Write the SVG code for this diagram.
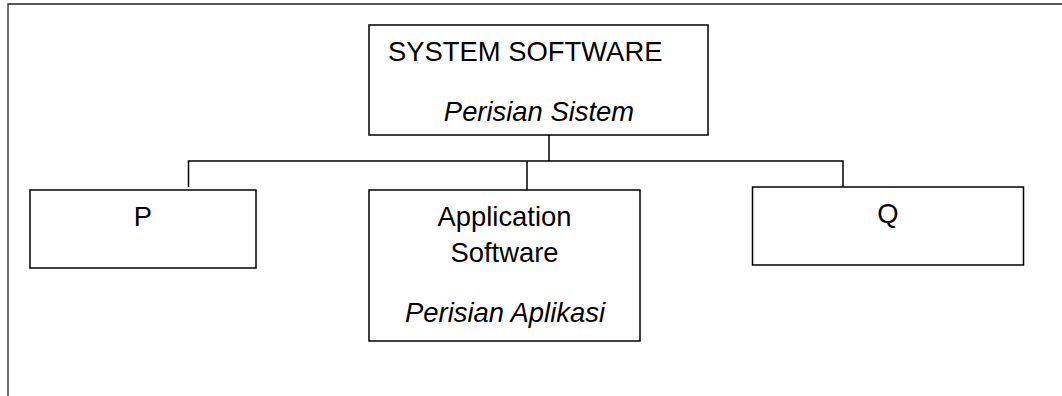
<svg xmlns="http://www.w3.org/2000/svg" width="1062" height="396" viewBox="0 0 1062 396">
<style>
.box{fill:#fff;stroke:#000;stroke-width:1.5}
.ln{fill:none;stroke:#000;stroke-width:1.5}
.t{font-family:"Liberation Sans",Arial,sans-serif;font-size:27.4px;fill:#000}
.i{font-style:italic}
.c{text-anchor:middle}
</style>
<rect width="1062" height="396" fill="#fff"/>
<g id="frame"><path d="M8 396V4H1062" fill="none" stroke="#222" stroke-width="1.3"/></g>
<g id="connectors">
<path class="ln" d="M549 135V161M188.5 187V161H843V187M527 161V190"/>
</g>
<g id="system">
<rect class="box" x="369" y="25" width="339" height="110"/>
<text class="t" x="388" y="61">SYSTEM SOFTWARE</text>
<text class="t i c" x="539" y="121">Perisian Sistem</text>
</g>
<g id="p">
<rect class="box" x="30" y="190" width="226" height="78"/>
<text class="t c" x="143" y="226">P</text>
</g>
<g id="application">
<rect class="box" x="369" y="190" width="271" height="151"/>
<text class="t c" x="504.5" y="226">Application</text>
<text class="t c" x="504.5" y="262">Software</text>
<text class="t i c" x="505" y="322">Perisian Aplikasi</text>
</g>
<g id="q">
<rect class="box" x="752.5" y="187" width="271" height="78"/>
<text class="t c" x="888" y="223">Q</text>
</g>
</svg>
